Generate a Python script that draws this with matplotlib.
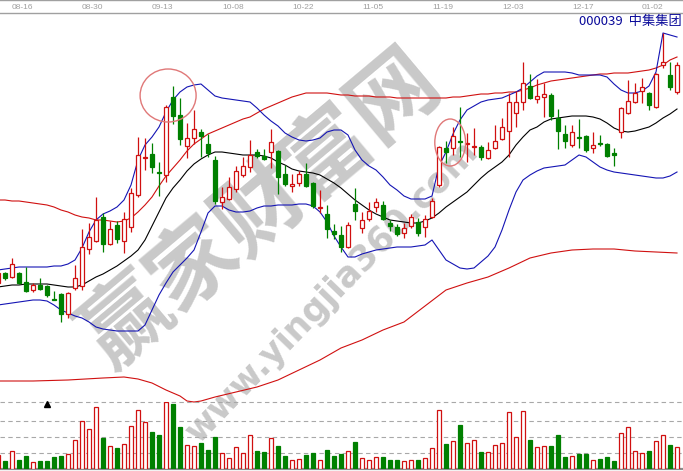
import matplotlib
matplotlib.use("Agg")
import matplotlib.pyplot as plt
from matplotlib.patches import Ellipse
import numpy as np

# ---------------- data ----------------
date_labels = ['08-16', '08-30', '09-13', '10-08', '10-22', '11-05', '11-19', '12-03', '12-17', '01-02']
date_idx = [1, 11, 21, 31, 41, 51, 61, 71, 81, 91]
title = '000039  中集集团'

open_ = [10.34, 10.54, 10.46, 10.54, 10.36, 10.20, 10.30, 10.28, 10.03, 10.12,
         9.72, 10.24, 10.28, 11.02, 11.18, 11.66, 11.12, 11.50, 11.18, 11.46,
         12.10, 12.85, 12.92, 12.57, 12.50, 14.06, 13.70, 13.08, 13.24, 13.36,
         13.12, 12.80, 11.96, 12.02, 12.22, 12.50, 12.66, 12.96, 12.88, 12.96,
         12.98, 12.52, 12.29, 12.34, 12.52, 12.34, 11.85, 11.72, 11.38, 11.30,
         11.06, 11.92, 11.44, 11.62, 11.86, 11.90, 11.54, 11.46, 11.34, 11.48,
         11.56, 11.46, 11.66, 12.30, 13.04, 13.04, 13.19, 13.13, 13.07, 13.06,
         12.84, 13.04, 13.22, 13.38, 13.74, 13.96, 14.28, 14.02, 14.06, 14.10,
         13.64, 13.32, 13.10, 13.27, 13.28, 13.04, 13.15, 13.12, 12.94, 13.36,
         13.74, 13.96, 14.18, 14.14, 13.86, 14.70, 14.50, 14.16]
close = [10.54, 10.44, 10.72, 10.34, 10.18, 10.30, 10.22, 10.10, 10.01, 9.72,
         10.14, 10.44, 11.06, 11.26, 11.60, 11.12, 11.42, 11.22, 11.62, 12.14,
         12.90, 12.87, 12.66, 12.55, 13.86, 13.68, 13.22, 13.24, 13.42, 13.28,
         12.94, 11.98, 12.06, 12.26, 12.58, 12.68, 12.90, 12.88, 12.82, 13.16,
         12.46, 12.32, 12.31, 12.52, 12.28, 11.88, 11.87, 11.42, 11.32, 11.06,
         11.50, 11.78, 11.60, 11.78, 11.96, 11.62, 11.48, 11.32, 11.44, 11.66,
         11.34, 11.62, 11.98, 13.06, 12.96, 13.28, 13.17, 13.15, 13.09, 12.86,
         13.00, 13.18, 13.46, 13.96, 13.96, 14.34, 14.04, 14.08, 14.12, 13.68,
         13.38, 13.18, 13.36, 13.25, 13.00, 13.10, 13.13, 12.88, 12.90, 13.84,
         13.98, 14.14, 14.26, 13.90, 14.52, 14.76, 14.26, 14.70]
high = [10.58, 10.56, 10.84, 10.56, 10.66, 10.34, 10.44, 10.30, 10.18, 10.14,
        10.16, 10.70, 11.42, 11.54, 12.06, 11.74, 11.58, 11.58, 11.76, 12.24,
        13.26, 13.24, 13.14, 12.76, 13.90, 14.28, 14.04, 13.54, 13.80, 13.42,
        13.32, 12.88, 12.26, 12.46, 12.68, 12.86, 13.20, 13.02, 13.02, 13.42,
        13.00, 12.70, 12.52, 12.58, 12.74, 12.36, 12.20, 11.90, 11.52, 11.48,
        11.56, 12.24, 11.76, 11.96, 12.04, 11.98, 11.60, 11.52, 11.54, 11.72,
        11.64, 11.70, 12.04, 13.08, 13.18, 13.46, 13.86, 13.34, 13.44, 13.10,
        13.16, 13.50, 13.64, 14.14, 14.18, 14.76, 14.52, 14.42, 14.34, 14.14,
        13.82, 13.50, 13.50, 13.62, 13.30, 13.36, 13.30, 13.14, 13.04, 13.86,
        14.40, 14.34, 14.44, 14.16, 14.54, 15.34, 14.76, 14.76]
low = [10.30, 10.40, 10.44, 10.32, 10.16, 10.16, 10.20, 10.06, 10.00, 9.56,
       9.64, 10.20, 10.20, 10.92, 11.16, 10.96, 11.10, 11.14, 10.94, 11.36,
       12.06, 12.60, 12.54, 12.08, 12.36, 13.52, 13.10, 12.84, 13.12, 12.86,
       12.86, 11.92, 11.82, 12.00, 12.16, 12.46, 12.56, 12.84, 12.80, 12.64,
       12.12, 12.28, 12.16, 12.28, 12.26, 11.84, 11.74, 11.24, 11.22, 10.96,
       11.04, 11.60, 11.34, 11.58, 11.76, 11.60, 11.38, 11.28, 11.24, 11.44,
       11.28, 11.26, 11.64, 12.26, 12.74, 12.90, 12.86, 12.76, 12.90, 12.80,
       12.82, 13.02, 13.20, 12.86, 13.46, 13.80, 14.02, 13.94, 13.66, 13.60,
       13.02, 13.04, 13.06, 13.04, 12.96, 12.94, 13.08, 12.86, 12.68, 13.24,
       13.72, 13.94, 13.94, 13.80, 13.84, 14.64, 14.20, 14.12]
volume = [8.6, 5.0, 11.0, 5.6, 8.0, 4.2, 5.0, 5.0, 7.4, 8.0,
          9.2, 17.4, 28.8, 24.0, 37.2, 18.8, 13.8, 12.8, 15.0, 25.8,
          35.4, 28.2, 22.4, 20.6, 40.2, 39.2, 25.4, 14.4, 13.8, 15.8,
          11.6, 19.4, 9.6, 6.6, 13.2, 9.6, 20.4, 11.0, 10.4, 18.6,
          14.0, 8.0, 5.4, 6.0, 8.6, 9.8, 5.4, 11.6, 8.0, 9.2,
          11.0, 16.4, 6.6, 5.6, 7.2, 7.2, 5.6, 5.6, 5.0, 5.6,
          5.6, 6.6, 12.6, 35.4, 15.2, 17.0, 26.6, 15.6, 17.4, 10.0,
          10.2, 14.4, 15.6, 34.2, 19.2, 34.8, 17.6, 13.2, 13.8, 14.0,
          20.6, 7.4, 7.8, 9.2, 9.2, 5.6, 6.2, 7.4, 5.0, 21.6,
          25.2, 11.0, 9.6, 11.0, 16.8, 20.4, 14.6, 13.2]

boll_upper = [10.60, 10.62, 10.64, 10.66, 10.66, 10.66, 10.66, 10.66, 10.68, 10.68,
              10.72, 10.80, 11.04, 11.36, 11.60, 11.72, 11.78, 11.86, 12.00, 12.30,
              12.80, 13.10, 13.26, 13.46, 13.76, 14.00, 14.16, 14.26, 14.30, 14.32,
              14.20, 14.08, 14.04, 14.02, 14.00, 13.98, 13.96, 13.84, 13.70, 13.58,
              13.48, 13.34, 13.26, 13.20, 13.18, 13.20, 13.24, 13.36, 13.40, 13.40,
              13.30, 13.00, 12.80, 12.68, 12.60, 12.46, 12.30, 12.20, 12.08, 12.02,
              12.02, 12.02, 12.08, 12.68, 12.96, 13.32, 13.60, 13.80, 13.88, 13.96,
              14.00, 14.02, 14.04, 14.10, 14.16, 14.24, 14.36, 14.48, 14.56, 14.56,
              14.56, 14.56, 14.54, 14.50, 14.50, 14.50, 14.50, 14.46, 14.32, 14.20,
              14.14, 14.14, 14.18, 14.28, 14.56, 15.34, 15.30, 15.26]
boll_mid = [10.26, 10.28, 10.30, 10.30, 10.32, 10.32, 10.32, 10.32, 10.30, 10.28,
            10.26, 10.26, 10.30, 10.38, 10.46, 10.52, 10.60, 10.68, 10.78, 10.88,
            11.00, 11.20, 11.48, 11.76, 12.04, 12.24, 12.40, 12.58, 12.72, 12.82,
            12.90, 12.96, 12.96, 12.94, 12.92, 12.90, 12.90, 12.90, 12.88, 12.84,
            12.76, 12.70, 12.62, 12.58, 12.56, 12.54, 12.50, 12.42, 12.34, 12.24,
            12.12, 12.00, 11.90, 11.80, 11.72, 11.66, 11.60, 11.58, 11.56, 11.54,
            11.54, 11.58, 11.64, 11.74, 11.86, 11.96, 12.06, 12.16, 12.30, 12.44,
            12.56, 12.66, 12.76, 12.90, 13.10, 13.26, 13.40, 13.46, 13.56, 13.62,
            13.64, 13.66, 13.68, 13.68, 13.68, 13.66, 13.62, 13.54, 13.44, 13.38,
            13.36, 13.38, 13.42, 13.46, 13.54, 13.64, 13.72, 13.82]
boll_lower = [9.90, 9.92, 9.94, 9.96, 9.98, 10.00, 10.00, 9.98, 9.90, 9.80,
              9.74, 9.68, 9.64, 9.56, 9.46, 9.42, 9.40, 9.38, 9.38, 9.38,
              9.38, 9.50, 9.80, 10.10, 10.34, 10.56, 10.70, 10.84, 11.00, 11.36,
              11.74, 11.88, 11.88, 11.80, 11.76, 11.76, 11.78, 11.84, 11.88, 11.88,
              11.90, 11.90, 11.90, 11.92, 11.92, 11.88, 11.76, 11.56, 11.28, 11.06,
              10.86, 10.86, 10.92, 10.96, 11.00, 11.02, 11.04, 11.06, 11.06, 11.06,
              11.08, 11.10, 11.20, 11.00, 10.80, 10.72, 10.64, 10.62, 10.64, 10.76,
              10.88, 11.06, 11.40, 11.80, 12.16, 12.40, 12.50, 12.58, 12.64, 12.66,
              12.68, 12.70, 12.80, 12.90, 12.86, 12.76, 12.66, 12.60, 12.56, 12.54,
              12.52, 12.50, 12.48, 12.46, 12.44, 12.44, 12.48, 12.56]
long_upper = [12.00, 12.00, 11.98, 11.98, 11.96, 11.94, 11.92, 11.90, 11.86, 11.80,
              11.76, 11.70, 11.66, 11.64, 11.60, 11.60, 11.58, 11.56, 11.58, 11.64,
              11.76, 11.90, 12.06, 12.28, 12.48, 12.64, 12.80, 12.98, 13.12, 13.22,
              13.32, 13.38, 13.44, 13.50, 13.56, 13.62, 13.66, 13.74, 13.82, 13.88,
              13.94, 14.00, 14.06, 14.10, 14.14, 14.14, 14.14, 14.14, 14.12, 14.10,
              14.10, 14.08, 14.08, 14.08, 14.06, 14.06, 14.06, 14.04, 14.04, 14.04,
              14.04, 14.04, 14.04, 14.04, 14.04, 14.06, 14.06, 14.08, 14.10, 14.12,
              14.12, 14.14, 14.14, 14.16, 14.16, 14.20, 14.24, 14.30, 14.34, 14.38,
              14.40, 14.42, 14.44, 14.46, 14.48, 14.50, 14.52, 14.52, 14.54, 14.54,
              14.54, 14.56, 14.58, 14.60, 14.64, 14.70, 14.80, 14.86]
long_lower_idx = [0, 5, 10, 15, 18, 20, 22, 24, 26, 27, 28, 29, 31, 34, 37, 40, 43, 46, 49,
                  52, 55, 58, 61, 64, 67, 70, 73, 76, 79, 82, 85, 88, 91, 94, 97]
long_lower = [8.38, 8.38, 8.40, 8.44, 8.46, 8.42, 8.34, 8.20, 8.08, 7.98, 7.96, 7.98, 8.06,
              8.16, 8.26, 8.40, 8.60, 8.80, 9.04, 9.20, 9.40, 9.56, 9.88, 10.20, 10.34,
              10.46, 10.64, 10.84, 10.94, 11.00, 11.02, 11.02, 10.98, 10.96, 10.94]

# highlighted areas (candle index, price, width in candles, height in price)
circles = [(24.3, 14.09, 8.0, 1.06), (64.6, 13.15, 4.4, 0.94)]
vol_grid = [9.6, 19.2, 28.8, 40.2]
marker_pos = (7, 39.0)

# ---------------- style ----------------
RED = '#d01010'
GREEN = '#008000'
BLUE = '#1414b4'
GRAY = '#a0a0a0'
W, H = 683, 471
n = len(close)
x = np.arange(n)
xlim = (2 / 7, 685 / 7)

fig = plt.figure(figsize=(W / 100, H / 100), dpi=100)
fig.patch.set_facecolor('white')

# watermark (behind the chart)
wm_color = '#c9c9c9'
fig.text(262 / W, 1 - 210 / H, '赢家财富网', rotation=40, rotation_mode='anchor',
         ha='center', va='center', fontsize=63, fontweight='bold', color=wm_color,
         family=['Noto Sans CJK SC', 'DejaVu Sans'], zorder=-5)
fig.text(332 / W, 1 - 292 / H, 'www.yingjia360.com', rotation=46, rotation_mode='anchor',
         ha='center', va='center', fontsize=25, fontweight='bold', color=wm_color,
         family='DejaVu Sans', zorder=-5)

# header with dates
axh = fig.add_axes([0, (H - 13) / H, 1, 13 / H])
axh.set_facecolor('none')
axh.set_xlim(*xlim)
axh.set_ylim(0, 1)
axh.set_xticks([]); axh.set_yticks([])
for s in ['left', 'right']:
    axh.spines[s].set_visible(False)
for s in ['top', 'bottom']:
    axh.spines[s].set_color(GRAY)
    axh.spines[s].set_linewidth(1.0)
for d, i in zip(date_labels, date_idx):
    axh.text(i + 1.0, 0.45, d, ha='left', va='center', fontsize=6.0,
             color=GRAY, family='Liberation Sans')

# price axes
ax = fig.add_axes([0, 2 / H, 1, 456 / H])
ax.set_facecolor('none')
ax.set_xlim(*xlim)
ax.set_ylim(6.62, 15.74)
ax.axis('off')

lw = 0.8
ax.plot(x, long_upper, color=RED, lw=lw, zorder=2)
ax.plot(long_lower_idx, long_lower, color=RED, lw=lw, zorder=2)
ax.plot(x, boll_upper, color=BLUE, lw=lw, zorder=2)
ax.plot(x, boll_lower, color=BLUE, lw=lw, zorder=2)
ax.plot(x, boll_mid, color='black', lw=lw, zorder=2)

o = np.array(open_); c = np.array(close)
up = c >= o
cols = np.where(up, RED, GREEN)
ax.vlines(x, low, high, colors=cols, lw=0.9, zorder=3)
bottom = np.minimum(o, c)
height = np.abs(c - o)
ax.bar(x, height, bottom=bottom, width=0.62, color=np.where(up, 'white', GREEN),
       edgecolor=cols, linewidth=0.9, zorder=4)

for (cx, cy, w, h) in circles:
    ax.add_patch(Ellipse((cx, cy), w, h, fill=False, edgecolor='#e07878', lw=1.0, zorder=5))

ax.text(0.9985, 1 - 9 / 456, title, transform=ax.transAxes, ha='right', va='center',
        fontsize=9.5, color='#0a0a9a', family=['Noto Sans CJK SC', 'DejaVu Sans'], zorder=6)

# volume axes
axv = fig.add_axes([0, 2 / H, 1, 67 / H])
axv.set_facecolor('none')
axv.set_xlim(*xlim)
axv.set_ylim(0, 40.2)
axv.set_xticks([]); axv.set_yticks([])
for s in ['left', 'right', 'top']:
    axv.spines[s].set_visible(False)
axv.spines['bottom'].set_color('#8c8c8c')
axv.spines['bottom'].set_linewidth(1.6)
for g in vol_grid:
    axv.axhline(g, color='#a8a8a8', lw=0.8, ls=(0, (4, 3)), zorder=1, clip_on=False)
axv.bar(x, volume, width=0.62, color=np.where(up, 'white', GREEN),
        edgecolor=cols, linewidth=0.9, zorder=3)
axv.plot([marker_pos[0]], [marker_pos[1]], marker='^', color='black', ms=4, zorder=4,
         clip_on=False)

fig.savefig('out.png', dpi=100, facecolor='white')
